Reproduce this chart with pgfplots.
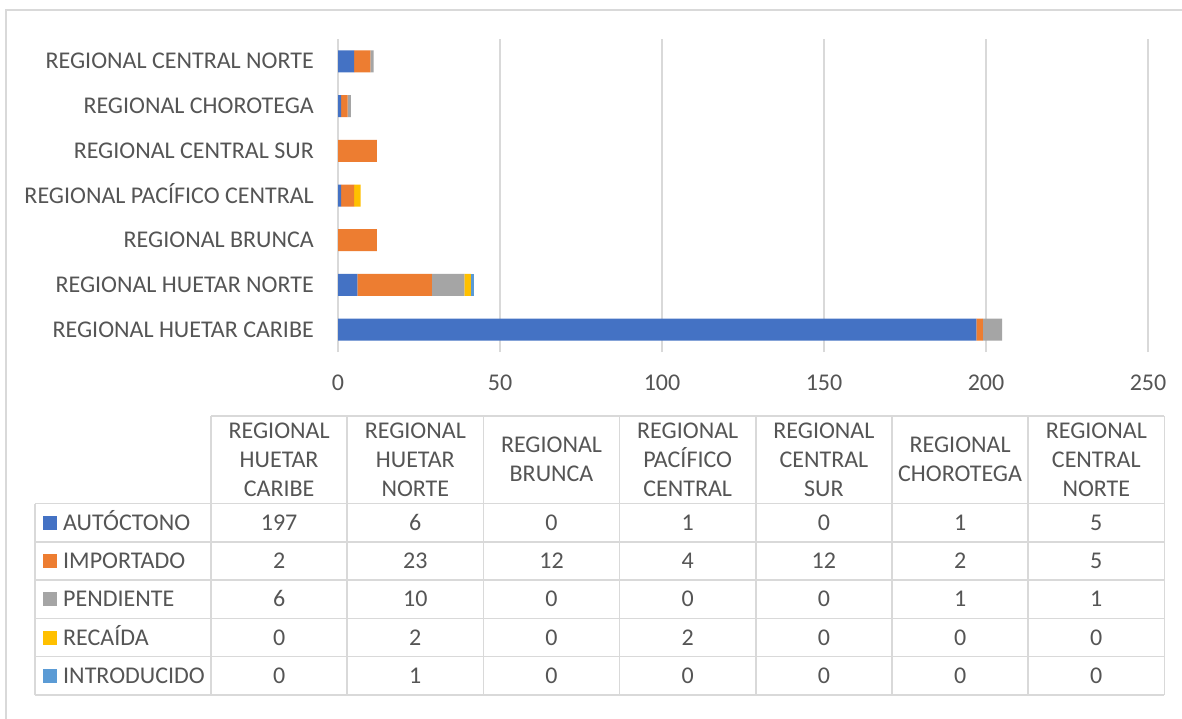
\documentclass[border=0pt]{standalone}
\usepackage{fontspec}
\setmainfont{Carlito}
\usepackage{pgfplots}
\pgfplotsset{compat=1.18}
\definecolor{cA}{HTML}{4472C4}
\definecolor{cI}{HTML}{ED7D31}
\definecolor{cP}{HTML}{A5A5A5}
\definecolor{cR}{HTML}{FFC000}
\definecolor{cN}{HTML}{5B9BD5}
\definecolor{txt}{HTML}{555555}
\definecolor{grd}{HTML}{D9D9D9}
\newcommand{\fs}{\fontsize{24}{29}\selectfont}
\begin{document}
\begin{tikzpicture}
\path[use as bounding box] (0pt,0pt) rectangle (1182pt,-719pt);
\fill[white] (0pt,0pt) rectangle (1182pt,-719pt);
\draw[grd, line width=1.5pt] (6pt,-719pt) -- (6pt,-10pt) -- (1182pt,-10pt);
\begin{axis}[
  at={(338pt,-352pt)}, anchor=south west,
  scale only axis, width=810pt, height=313pt,
  xbar stacked, bar width=22pt,
  xmin=0, xmax=250, ymin=-0.5, ymax=6.5,
  xtick={0,50,100,150,200,250},
  ytick={0,1,2,3,4,5,6},
  yticklabels={REGIONAL HUETAR CARIBE, REGIONAL HUETAR NORTE, REGIONAL BRUNCA, REGIONAL PACÍFICO CENTRAL, REGIONAL CENTRAL SUR, REGIONAL CHOROTEGA, REGIONAL CENTRAL NORTE},
  xmajorgrids, grid style={draw=grd, line width=1.3pt},
  axis line style={draw=none},
  major tick length=0pt,
  tick style={draw=none},
  /pgf/number format/assume math mode=true,
  tick label style={font=\fs, text=txt},
  xticklabel style={anchor=north, inner sep=0pt, text height=15pt, text depth=0pt, yshift=-23.5pt},
  yticklabel style={anchor=east, inner sep=0pt, text height=15pt, text depth=0pt, xshift=-24pt},
  clip=false,
]
\addplot[fill=cA, draw=none] coordinates {(197,0) (6,1) (0,2) (1,3) (0,4) (1,5) (5,6)};
\addplot[fill=cI, draw=none] coordinates {(2,0) (23,1) (12,2) (4,3) (12,4) (2,5) (5,6)};
\addplot[fill=cP, draw=none] coordinates {(6,0) (10,1) (0,2) (0,3) (0,4) (1,5) (1,6)};
\addplot[fill=cR, draw=none] coordinates {(0,0) (2,1) (0,2) (2,3) (0,4) (0,5) (0,6)};
\addplot[fill=cN, draw=none] coordinates {(0,0) (1,1) (0,2) (0,3) (0,4) (0,5) (0,6)};
\end{axis}
% data table
\begin{scope}[x=1pt, y=-1pt]
  \def\cw{136.2}
  \draw[grd, line width=1.5pt] (211,416) -- (1164.4,416);
  \foreach \r in {503.5,541.8,580.1,618.4,656.7,695} {
    \draw[grd, line width=1.5pt] (35,\r) -- (1164.4,\r);
  }
  \draw[grd, line width=1.5pt] (35,503.5) -- (35,695);
  \foreach \i in {0,...,7} {
    \draw[grd, line width=1.5pt] ({211+\i*\cw},416) -- ({211+\i*\cw},695);
  }
  \foreach \i/\h in {0/{REGIONAL\\HUETAR\\CARIBE}, 1/{REGIONAL\\HUETAR\\NORTE}, 2/{REGIONAL\\BRUNCA}, 3/{REGIONAL\\PACÍFICO\\CENTRAL}, 4/{REGIONAL\\CENTRAL\\SUR}, 5/{REGIONAL\\CHOROTEGA}, 6/{REGIONAL\\CENTRAL\\NORTE}} {
    \node[align=center, font=\fs, text=txt, inner sep=0pt, anchor=center] at ({211+(\i+0.5)*\cw},459.75) {\h};
  }
  \foreach \j/\n/\c in {0/AUTÓCTONO/cA, 1/IMPORTADO/cI, 2/PENDIENTE/cP, 3/RECAÍDA/cR, 4/INTRODUCIDO/cN} {
    \fill[\c] (43,{503.5+(\j+0.5)*38.3-7}) rectangle (57,{503.5+(\j+0.5)*38.3+7});
    \node[anchor=west, font=\fs, text=txt, inner sep=0pt, text height=15pt, text depth=0pt] at (63,{503.5+(\j+0.5)*38.3}) {\n};
  }
  \foreach \j/\vals in {0/{197,6,0,1,0,1,5}, 1/{2,23,12,4,12,2,5}, 2/{6,10,0,0,0,1,1}, 3/{0,2,0,2,0,0,0}, 4/{0,1,0,0,0,0,0}} {
    \foreach \v [count=\k from 0] in \vals {
      \node[font=\fs, text=txt, inner sep=0pt, text height=15pt, text depth=0pt, anchor=center] at ({211+(\k+0.5)*\cw},{503.5+(\j+0.5)*38.3}) {\v};
    }
  }
\end{scope}
\end{tikzpicture}
\end{document}
